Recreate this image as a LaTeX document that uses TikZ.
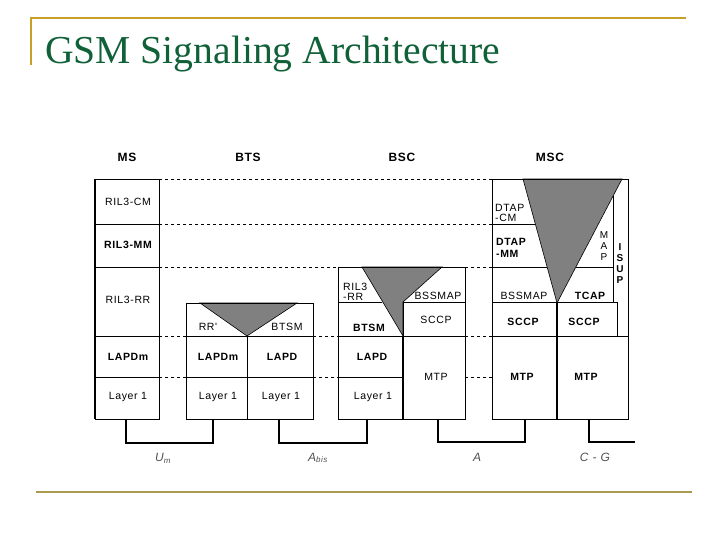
\documentclass[tikz,border=0pt]{standalone}
\usepackage{fontspec}
\setmainfont{Liberation Serif}
\newfontfamily\arialfont[LetterSpace=6]{Liberation Sans}
\definecolor{titlegreen}{RGB}{16,96,56}
\definecolor{goldtop}{RGB}{200,160,40}
\definecolor{goldbot}{RGB}{170,155,80}
\definecolor{trigray}{RGB}{128,128,128}
\definecolor{lblgray}{RGB}{80,80,80}
\tikzset{
  box/.style={draw, line width=0.9pt},
  thin line/.style={line width=0.8pt},
  thick line/.style={line width=1.6pt},
  cell/.style={font=\arialfont\fontsize{10.5}{11}\selectfont, inner sep=0pt},
  boldcell/.style={cell, font=\arialfont\bfseries\fontsize{10.5}{11}\selectfont},
  hdr/.style={font=\arialfont\bfseries\fontsize{12}{13}\selectfont, inner sep=0pt},
  dashline/.style={dash pattern=on 3pt off 3pt, line width=0.7pt},
  conn/.style={line width=1.3pt},
  tri/.style={fill=trigray, draw=black, line width=0.6pt},
  iflabel/.style={font=\arialfont\itshape\fontsize{12}{13}\selectfont, text=lblgray, inner sep=0pt}
}
\begin{document}
\begin{tikzpicture}[x=1pt, y=-1pt]
\useasboundingbox (0,0) rectangle (728,546);
% title decorations
\draw[goldtop, line width=1.5pt] (30,18) -- (686,18);
\draw[goldtop, line width=1.5pt] (31,18) -- (31,65);
\draw[goldbot, line width=2.5pt] (36,492) -- (692,492);
\node[anchor=base west, inner sep=0pt, text=titlegreen, font=\fontsize{39.6}{42}\selectfont] (title) at (45,63) {GSM Signaling Architecture};

% headers
\node[hdr] (hms) at (127,157) {MS};
\node[hdr] (hbts) at (248,157) {BTS};
\node[hdr] (hbsc) at (402,157) {BSC};
\node[hdr] (hmsc) at (550,157) {MSC};

% dashed level lines
\draw[dashline] (159,179) -- (492,179);
\draw[dashline] (159,224) -- (492,224);
\draw[dashline] (159,267) -- (338,267);
\draw[dashline] (465,267) -- (492,267);
\foreach \yy in {336,377} {
  \draw[dashline] (159,\yy) -- (186,\yy);
  \draw[dashline] (313,\yy) -- (338,\yy);
  \draw[dashline] (465,\yy) -- (492,\yy);
}

% ---------- MS ----------
\draw[box] (95,179) rectangle (159,419);
\draw[thick line] (95,179) -- (95,419);
\foreach \yy in {224,267,336,377} \draw[thin line] (95,\yy) -- (159,\yy);
\node[cell] (ms1) at (128,202) {RIL3-CM};
\node[boldcell] (ms2) at (128,245) {RIL3-MM};
\node[cell] (ms3) at (128,300) {RIL3-RR};
\node[boldcell] (ms4) at (128,357) {LAPDm};
\node[cell] (ms5) at (128,397) {Layer 1};
\coordinate (msb) at (126,419);

% ---------- BTS ----------
\fill[tri] (200,303) -- (297,303) -- (247,336) -- cycle;
\draw[box] (186,303) rectangle (313,419);
\draw[thin line] (186,336) -- (313,336);
\draw[thin line] (186,377) -- (313,377);
\draw[thin line] (247,336) -- (247,419);
\node[cell] (bts1) at (208,327) {RR'};
\node[cell] (bts2) at (287,327) {BTSM};
\node[boldcell] (bts3) at (218,357) {LAPDm};
\node[boldcell] (bts4) at (282,357) {LAPD};
\node[cell] (bts5) at (218,397) {Layer 1};
\node[cell] (bts6) at (281,397) {Layer 1};
\coordinate (btsl) at (213,419);
\coordinate (btsr) at (279,419);

% ---------- BSC ----------
\fill[tri] (362,267) -- (442,267) -- (403,302) -- (403,336) -- cycle;
\draw[box] (338,267) rectangle (465,419);
\draw[thin line] (338,302) -- (382,302);
\draw[thin line] (403,302) -- (465,302);
\draw[thin line] (338,336) -- (465,336);
\draw[thin line] (338,377) -- (403,377);
\draw[thin line] (403,302) -- (403,336);
\draw[thick line] (403,336) -- (403,419);
\node[cell, anchor=west, align=left, font=\arialfont\fontsize{10.5}{10}\selectfont] (bsc1) at (343,292) {RIL3\\-RR};
\node[cell] (bsc2) at (438,296) {BSSMAP};
\node[boldcell] (bsc3) at (369,328) {BTSM};
\node[cell] (bsc4) at (436,320) {SCCP};
\node[boldcell] (bsc5) at (372,357) {LAPD};
\node[cell] (bsc6) at (373,397) {Layer 1};
\node[cell] (bsc7) at (436,377) {MTP};
\coordinate (bscl) at (367,419);
\coordinate (bscr) at (438,419);

% ---------- MSC ----------
\fill[tri] (523,179) -- (622,179) -- (557,303) -- cycle;
\draw[box] (492,179) rectangle (628,419);
\draw[thin line] (492,224) -- (535.3,224);
\draw[thin line] (492,267) -- (547.1,267);
\draw[thin line] (575.9,267) -- (613,267);
\draw[thin line] (613,196.2) -- (613,302);
\draw[thin line] (492,302) -- (617,302) -- (617,336);
\draw[thin line] (492,336) -- (628,336);
\draw[thick line] (557,303) -- (557,419);
\node[cell, anchor=west, align=left, font=\arialfont\fontsize{10.5}{9.5}\selectfont] (msc1) at (495,213) {DTAP\\-CM};
\node[boldcell, anchor=west, align=left, font=\arialfont\bfseries\fontsize{10.5}{11.5}\selectfont] (msc2) at (496,248) {DTAP\\-MM};
\node[cell] (msc3) at (524,296) {BSSMAP};
\node[boldcell] (msc4) at (590,296) {TCAP};
\node[boldcell] (msc5) at (523,322) {SCCP};
\node[boldcell] (msc6) at (584,322) {SCCP};
\node[boldcell] (msc7) at (522,377) {MTP};
\node[boldcell] (msc8) at (586,377) {MTP};
\node[cell, align=center, font=\arialfont\fontsize{10}{11}\selectfont] (map) at (604,246) {M\\A\\P};
\node[boldcell, align=center, font=\arialfont\bfseries\fontsize{10}{11}\selectfont] (isup) at (620,264) {I\\S\\U\\P};
\coordinate (mscl) at (525,419);
\coordinate (mscr) at (589,419);
\coordinate (cgend) at (635,442);

% ---------- interface connectors ----------
\draw[conn] (msb) -- ++(0,24) -| (btsl);
\draw[conn] (btsr) -- ++(0,24) -| (bscl);
\draw[conn] (bscr) -- ++(0,23) -| (mscl);
\draw[conn] (mscr) |- (cgend);

\node[iflabel] (um) at (163,458) {U\textsubscript{m}};
\node[iflabel] (abis) at (318,458) {A\textsubscript{bis}};
\node[iflabel] (aif) at (477,457) {A};
\node[iflabel] (cg) at (595,457) {C - G};
\end{tikzpicture}
\end{document}
